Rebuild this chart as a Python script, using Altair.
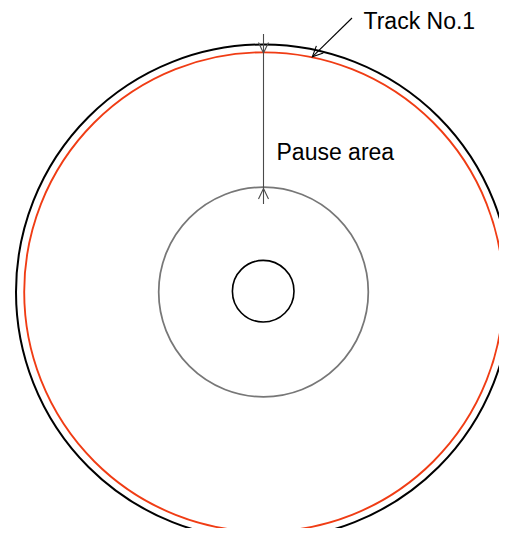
import altair as alt
import pandas as pd

# ---- circles (disc outline, track, pause-area boundary, centre hole), pixel units
circle_names = ["Disc edge", "Track No.1", "Pause boundary", "Centre hole"]
circle_cx = [263.5, 263.8, 263.5, 263.2]
circle_cy = [292.0, 292.0, 292.0, 291.2]
circle_r = [247.5, 239.6, 104.8, 30.8]
circle_colors = ["#000000", "#f03c14", "#777777", "#000000"]
circle_widths = [2.0, 1.6, 1.5, 1.8]

# ---- leader lines
line_names = ["Pause area span", "Track No.1 leader"]
line_x1 = [263.5, 352.0]
line_y1 = [34.0, 18.0]
line_x2 = [263.5, 312.3]
line_y2 = [204.0, 56.8]
line_colors = ["#4a4a4a", "#000000"]

# ---- arrow heads (tip position, direction angle)
head_names = ["Pause area span", "Pause area span", "Track No.1 leader"]
head_x = [263.5, 263.5, 312.3]
head_y = [53.0, 188.5, 56.8]
head_angle = [0, 180, 46]

# ---- labels
label_text = ["Track No.1", "Pause area"]
label_x = [363.5, 276.5]
label_y = [29.3, 160.0]

W, H = 491, 520
xs = alt.Scale(domain=[8, 8 + W])
ys = alt.Scale(domain=[8, 8 + H], reverse=True)

circles = pd.DataFrame({"name": circle_names, "cx": circle_cx, "cy": circle_cy, "r": circle_r})
lines = pd.DataFrame({"lname": line_names, "x1": line_x1, "y1": line_y1, "x2": line_x2, "y2": line_y2})
heads = pd.DataFrame({"lname": head_names, "x": head_x, "y": head_y, "angle": head_angle})
labels = pd.DataFrame({"text": label_text, "x": label_x, "y": label_y})

circ = alt.Chart(circles).mark_point(shape="circle", filled=False, opacity=1, clip=True).transform_calculate(
    sz="pow(2*datum.r, 2)"
).encode(
    x=alt.X("cx:Q", scale=xs, axis=None),
    y=alt.Y("cy:Q", scale=ys, axis=None),
    size=alt.Size("sz:Q", scale=None, legend=None),
    stroke=alt.Stroke("name:N", scale=alt.Scale(domain=circle_names, range=circle_colors), legend=None),
    strokeWidth=alt.StrokeWidth("name:N", scale=alt.Scale(domain=circle_names, range=circle_widths), legend=None),
)

line_stroke = alt.Stroke("lname:N", scale=alt.Scale(domain=line_names, range=line_colors), legend=None)

rules = alt.Chart(lines).mark_rule(strokeWidth=1.1).encode(
    x=alt.X("x1:Q", scale=xs, axis=None),
    y=alt.Y("y1:Q", scale=ys, axis=None),
    x2="x2:Q",
    y2="y2:Q",
    stroke=line_stroke,
)

arrow_shape = "M -0.5 -1.05 L 0 0 L 0.5 -1.05"
arrowheads = alt.Chart(heads).mark_point(shape=arrow_shape, filled=False, size=400, strokeWidth=1.1, opacity=1).encode(
    x=alt.X("x:Q", scale=xs, axis=None),
    y=alt.Y("y:Q", scale=ys, axis=None),
    angle=alt.Angle("angle:Q", scale=None),
    stroke=line_stroke,
)

texts = alt.Chart(labels).mark_text(
    align="left", baseline="alphabetic", font="Liberation Sans", fontSize=23, color="#000000"
).encode(
    x=alt.X("x:Q", scale=xs, axis=None),
    y=alt.Y("y:Q", scale=ys, axis=None),
    text="text:N",
)

chart = alt.layer(circ, rules, arrowheads, texts).resolve_scale(
    stroke="independent", strokeWidth="independent"
).properties(
    width=W, height=H, padding=0, autosize=alt.AutoSizeParams(type="none"), background="white"
).configure_view(stroke=None)

chart.save("out.html", embed_options={"renderer": "svg", "actions": False})
